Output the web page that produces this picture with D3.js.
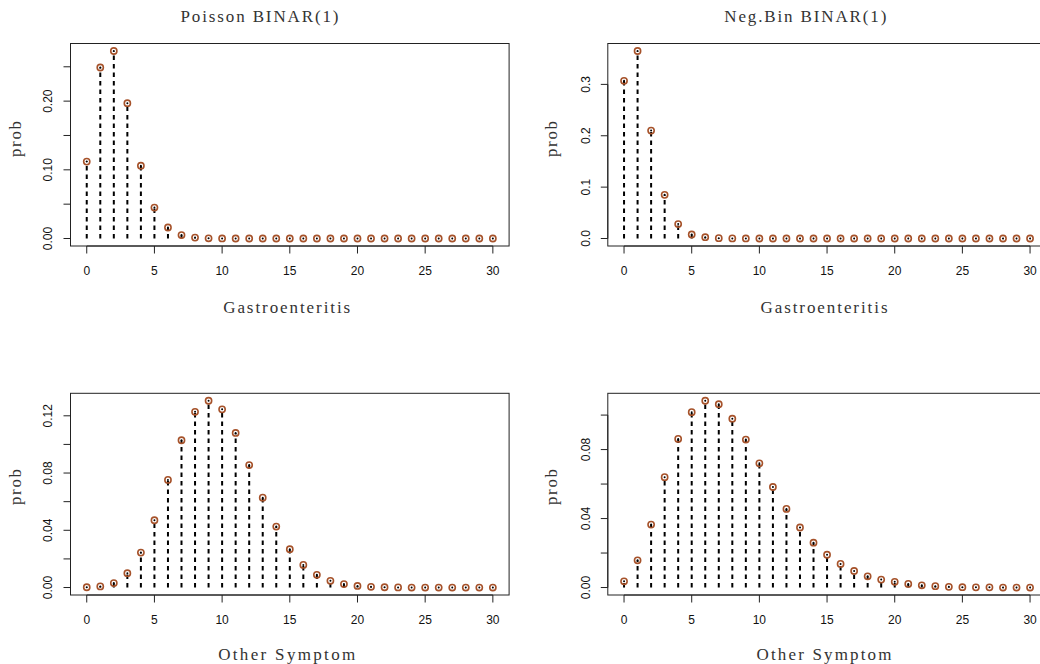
<!DOCTYPE html>
<html><head><meta charset="utf-8">
<script src="https://cdn.jsdelivr.net/npm/d3@7"></script>
<style>body{margin:0;background:#fff}svg{display:block}</style>
</head><body>
<svg id="c" width="1040" height="664"></svg>
<script>
const counts = d3.range(0, 31);
const xTicks = [0, 5, 10, 15, 20, 25, 30];
const titles = ["Poisson BINAR(1)", "Neg.Bin BINAR(1)"];
const xLabels = ["Gastroenteritis", "Other Symptom"];
const yLabel = "prob";

const poissonGastro = [0.112, 0.249, 0.273, 0.197, 0.106, 0.045, 0.016, 0.005, 0.0013, 0.0003, 0.0001,
  0, 0, 0, 0, 0, 0, 0, 0, 0, 0, 0, 0, 0, 0, 0, 0, 0, 0, 0, 0];
const negbinGastro = [0.307, 0.365, 0.210, 0.085, 0.028, 0.0078, 0.0025, 0.0007, 0.0002, 0.0001, 0,
  0, 0, 0, 0, 0, 0, 0, 0, 0, 0, 0, 0, 0, 0, 0, 0, 0, 0, 0, 0];
const poissonOther = [0.0002, 0.0008, 0.0031, 0.0100, 0.0244, 0.0470, 0.0752, 0.1029, 0.1228, 0.1305, 0.1245,
  0.1080, 0.0856, 0.0628, 0.0426, 0.0268, 0.0158, 0.0089, 0.0047, 0.0024, 0.0011, 0.0005, 0.0002, 0.0001,
  0, 0, 0, 0, 0, 0, 0];
const negbinOther = [0.0036, 0.0158, 0.0365, 0.0640, 0.0862, 0.1017, 0.1083, 0.1063, 0.0979, 0.0858, 0.0720,
  0.0583, 0.0456, 0.0348, 0.0260, 0.0190, 0.0137, 0.0096, 0.0065, 0.0046, 0.0033, 0.0021, 0.0013, 0.0008,
  0.0004, 0.0002, 0.0001, 0.0001, 0, 0, 0];

const yTicksPG = [0, 0.05, 0.10, 0.15, 0.20, 0.25];
const yLabelsPG = ["0.00", "", "0.10", "", "0.20", ""];
const yTicksNG = [0, 0.1, 0.2, 0.3];
const yLabelsNG = ["0.0", "0.1", "0.2", "0.3"];
const yTicksPO = [0, 0.02, 0.04, 0.06, 0.08, 0.10, 0.12];
const yLabelsPO = ["0.00", "", "0.04", "", "0.08", "", "0.12"];
const yTicksNO = [0, 0.02, 0.04, 0.06, 0.08, 0.10];
const yLabelsNO = ["0.00", "", "0.04", "", "0.08", ""];

const panels = [
  {vals: poissonGastro, yt: yTicksPG, yl: yLabelsPG, title: titles[0], xl: xLabels[0], L: 70.5, R: 509.1, T: 43.5, B: 246, col: 0, row: 0},
  {vals: negbinGastro, yt: yTicksNG, yl: yLabelsNG, title: titles[1], xl: xLabels[0], L: 607.8, R: 1046.3, T: 43.5, B: 246, col: 1, row: 0},
  {vals: poissonOther, yt: yTicksPO, yl: yLabelsPO, title: null, xl: xLabels[1], L: 70.5, R: 509.1, T: 393.3, B: 595, col: 0, row: 1},
  {vals: negbinOther, yt: yTicksNO, yl: yLabelsNO, title: null, xl: xLabels[1], L: 607.8, R: 1046.3, T: 393.3, B: 595, col: 1, row: 1}
];

const svg = d3.select("#c");
const serif = "'Liberation Serif', 'Times New Roman', serif";
const sans = "'Liberation Sans', Arial, sans-serif";
const ptCol = "#A6522A";

const titleX = [259.5, 805.3];
const xLabX = [286.7, 824];
const xLabW = [[127, 127], [137, 135]];
const probX = [20.5, 557];
const probY = [139, 487];
const ytickX = [51.7, 590];
const xtickY = [275, 624];
const xLabY = [312.7, 660];

panels.forEach(p => {
  const g = svg.append("g");
  const ext = d3.extent(p.vals);
  const r = ext[1] - ext[0];
  const x = d3.scaleLinear().domain([-1.2, 31.2]).range([p.L, p.R]);
  const y = d3.scaleLinear().domain([ext[0] - 0.04 * r, ext[1] + 0.04 * r]).range([p.B, p.T]);

  // box
  g.append("rect").attr("x", p.L).attr("y", p.T).attr("width", p.R - p.L).attr("height", p.B - p.T)
    .attr("fill", "none").attr("stroke", "#222").attr("stroke-width", 1);

  // x axis
  g.append("line").attr("x1", x(0)).attr("x2", x(30)).attr("y1", p.B).attr("y2", p.B).attr("stroke", "#222");
  g.selectAll(".xt").data(xTicks).enter().append("line")
    .attr("x1", d => x(d)).attr("x2", d => x(d)).attr("y1", p.B).attr("y2", p.B + 7.5)
    .attr("stroke", "#222");
  g.selectAll(".xtl").data(xTicks).enter().append("text")
    .attr("x", d => x(d)).attr("y", xtickY[p.row]).attr("text-anchor", "middle")
    .attr("font-family", sans).attr("font-size", 12).attr("fill", "#111").text(d => d);

  // y axis
  g.append("line").attr("x1", p.L).attr("x2", p.L).attr("y1", y(p.yt[0])).attr("y2", y(p.yt[p.yt.length - 1])).attr("stroke", "#222");
  g.selectAll(".yt").data(p.yt).enter().append("line")
    .attr("x1", p.L - 7).attr("x2", p.L).attr("y1", d => y(d)).attr("y2", d => y(d)).attr("stroke", "#222");
  g.selectAll(".ytl").data(p.yt).enter().append("text")
    .attr("transform", d => `translate(${ytickX[p.col]},${y(d)}) rotate(-90)`)
    .attr("text-anchor", "middle").attr("font-family", sans).attr("font-size", 12).attr("fill", "#111")
    .text((d, i) => p.yl[i]);

  // stems
  g.selectAll(".stem").data(counts).enter().append("line")
    .attr("x1", d => x(d)).attr("x2", d => x(d))
    .attr("y1", y(0)).attr("y2", d => y(p.vals[d]))
    .attr("stroke", "#000").attr("stroke-width", 2).attr("stroke-dasharray", "4.5,4");
  // points
  g.selectAll(".pt").data(counts).enter().append("circle")
    .attr("cx", d => x(d)).attr("cy", d => y(p.vals[d])).attr("r", 3.1)
    .attr("fill", "none").attr("stroke", ptCol).attr("stroke-width", 1.6);
  g.selectAll(".dot").data(counts).enter().append("circle")
    .attr("cx", d => x(d)).attr("cy", d => y(p.vals[d])).attr("r", 1.0)
    .attr("fill", "#000");

  // labels
  if (p.title) {
    g.append("text").attr("x", titleX[p.col]).attr("y", 21.7).attr("text-anchor", "middle")
      .attr("font-family", serif).attr("font-size", 17).attr("fill", "#333")
      .attr("textLength", p.col === 0 ? 158 : 162).attr("lengthAdjust", "spacing")
      .text(p.title);
  }
  g.append("text").attr("x", xLabX[p.col]).attr("y", xLabY[p.row]).attr("text-anchor", "middle")
    .attr("font-family", serif).attr("font-size", 17).attr("fill", "#333")
    .attr("textLength", xLabW[p.row][p.col]).attr("lengthAdjust", "spacing")
    .text(p.xl);
  g.append("text").attr("transform", `translate(${probX[p.col]},${probY[p.row]}) rotate(-90)`)
    .attr("text-anchor", "middle").attr("font-family", serif).attr("font-size", 17).attr("fill", "#333")
    .attr("textLength", 36).attr("lengthAdjust", "spacing")
    .text(yLabel);
});
</script>
</body></html>
